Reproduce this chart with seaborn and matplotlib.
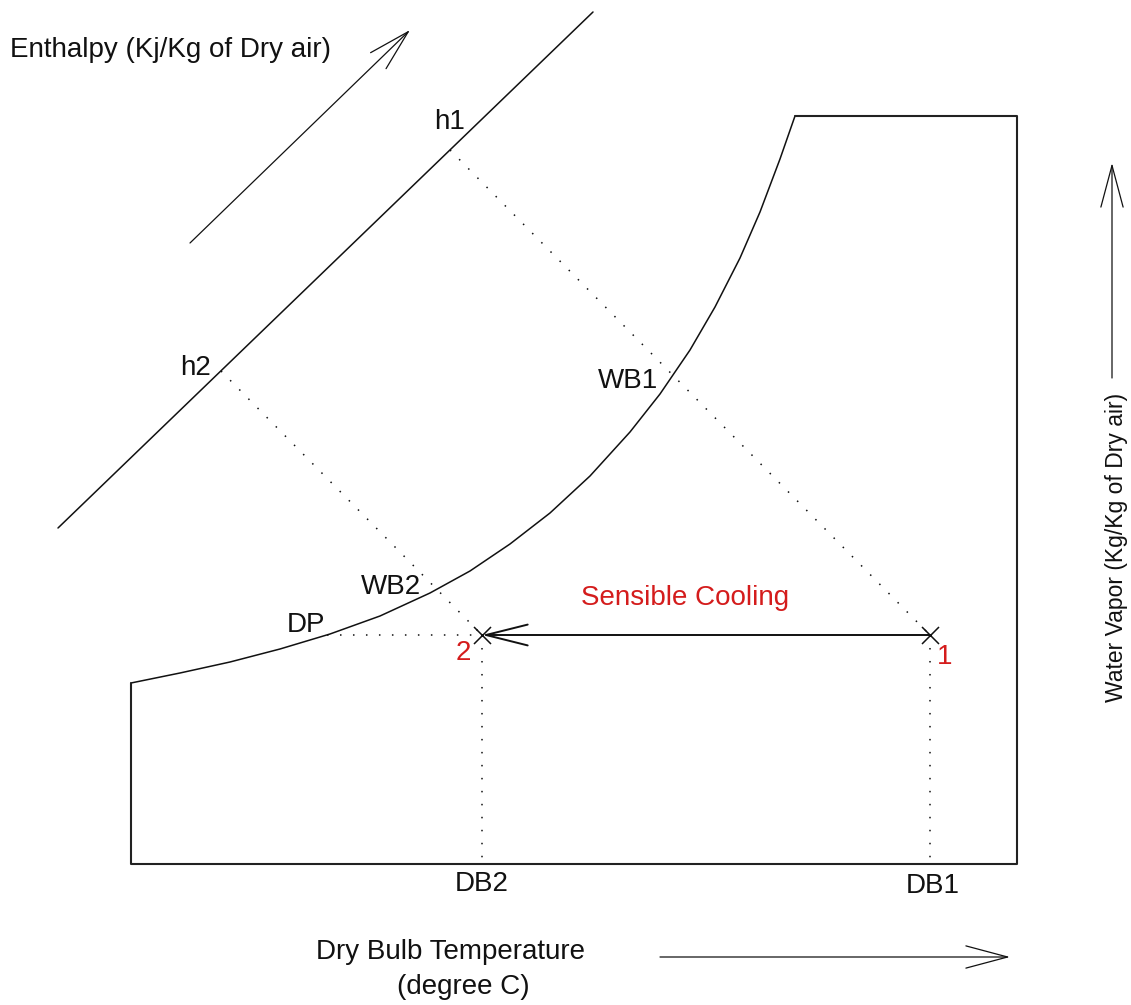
import matplotlib
matplotlib.use("Agg")
import matplotlib.pyplot as plt
import seaborn as sns

# psychrometric chart sketch, coordinates (pixels, y grows downward)

# saturation curve
sat_x = [131, 180, 230, 280, 330, 380, 430, 470, 510, 550, 590, 630, 660,
         690, 715, 740, 760, 780, 795]
sat_y = [683, 673, 662, 649, 634, 616, 593, 571, 544, 513, 476, 432, 394,
         350, 307, 258, 212, 159, 116]

# rest of the chart outline (continues from the top of the saturation curve)
box_x = [795, 1017, 1017, 131, 131]
box_y = [116, 116, 864, 864, 683]

# enthalpy scale line
enth_x = [58, 593]
enth_y = [528, 12]

# state points 1 and 2
state_names = ["1", "2"]
state_x = [930, 482]
state_y = [635, 635]

# where the enthalpy lines of the two states meet the enthalpy scale
h_names = ["h1", "h2"]
h_x = [450, 221]
h_y = [150, 371]

# dew point on the saturation curve
dp_x = 327

# direction arrows (tail -> head)
enth_arrow = [(190, 243), (410, 30)]
db_arrow = [(660, 957), (1010, 957)]
wv_arrow = [(1112, 378), (1112, 163)]

red = "#d41c1c"
ink = "#111111"

sns.set_style("white")
plt.rcParams["font.family"] = ["Liberation Sans", "DejaVu Sans"]
fs = 20

fig = plt.figure(figsize=(11.31, 10.05), dpi=100)
ax = fig.add_axes([0, 0, 1, 1])
ax.set_xlim(0, 1131)
ax.set_ylim(1005, 0)
ax.axis("off")

lw = 1.1
sns.lineplot(x=sat_x, y=sat_y, sort=False, estimator=None, color=ink, lw=lw, ax=ax)
ax.plot(box_x, box_y, color="#222222", lw=1.5)
ax.plot(enth_x, enth_y, color=ink, lw=lw)

dots = dict(color=ink, lw=1.1, linestyle=(0, (1, 7.5)))
# constant enthalpy lines through each state
for hx, hy, sx, sy in zip(h_x, h_y, state_x, state_y):
    ax.plot([hx, sx], [hy, sy], **dots)
# dry bulb drop lines
for sx, sy in zip(state_x, state_y):
    ax.plot([sx, sx], [sy, box_y[2]], **dots)
# dew point line
ax.plot([dp_x, state_x[1]], [state_y[1], state_y[1]], **dots)

# process arrow 1 -> 2
ax.annotate("", xy=(state_x[1], state_y[1]), xytext=(state_x[0], state_y[0]),
            arrowprops=dict(arrowstyle="->,head_length=30,head_width=7.5",
                            mutation_scale=1, color=ink, lw=1.4,
                            shrinkA=0, shrinkB=0))
sns.scatterplot(x=state_x, y=state_y, marker="x", s=150, color=ink,
                linewidth=1.1, ax=ax, zorder=5)

for (x0, y0), (x1, y1) in [enth_arrow, db_arrow, wv_arrow]:
    ax.annotate("", xy=(x1, y1), xytext=(x0, y0),
                arrowprops=dict(arrowstyle="->,head_length=30,head_width=8",
                                mutation_scale=1, color=ink, lw=0.9,
                                shrinkA=0, shrinkB=0))

# labels
ax.text(10, 50, "Enthalpy (Kj/Kg of Dry air)", fontsize=fs, color=ink, ha="left", va="center")
ax.text(450, 122, h_names[0], fontsize=fs, color=ink, ha="center", va="center")
ax.text(196, 368, h_names[1], fontsize=fs, color=ink, ha="center", va="center")
ax.text(628, 381, "WB1", fontsize=fs, color=ink, ha="center", va="center")
ax.text(391, 587, "WB2", fontsize=fs, color=ink, ha="center", va="center")
ax.text(306, 625, "DP", fontsize=fs, color=ink, ha="center", va="center")
ax.text(685, 598, "Sensible Cooling", fontsize=fs, color=red, ha="center", va="center")
ax.text(945, 657, state_names[0], fontsize=fs, color=red, ha="center", va="center")
ax.text(463, 653, state_names[1], fontsize=fs, color=red, ha="center", va="center")
ax.text(state_x[1], 884, "DB2", fontsize=fs, color=ink, ha="center", va="center")
ax.text(state_x[0] + 3, 886, "DB1", fontsize=fs, color=ink, ha="center", va="center")
ax.text(450, 952, "Dry Bulb Temperature", fontsize=fs, color=ink, ha="center", va="center")
ax.text(463, 987, "(degree C)", fontsize=fs, color=ink, ha="center", va="center")
ax.text(1117, 547, "Water Vapor (Kg/Kg of Dry air)", fontsize=16.5, color=ink,
        ha="center", va="center", rotation=90)

fig.savefig("out.png", dpi=100, facecolor="white")
